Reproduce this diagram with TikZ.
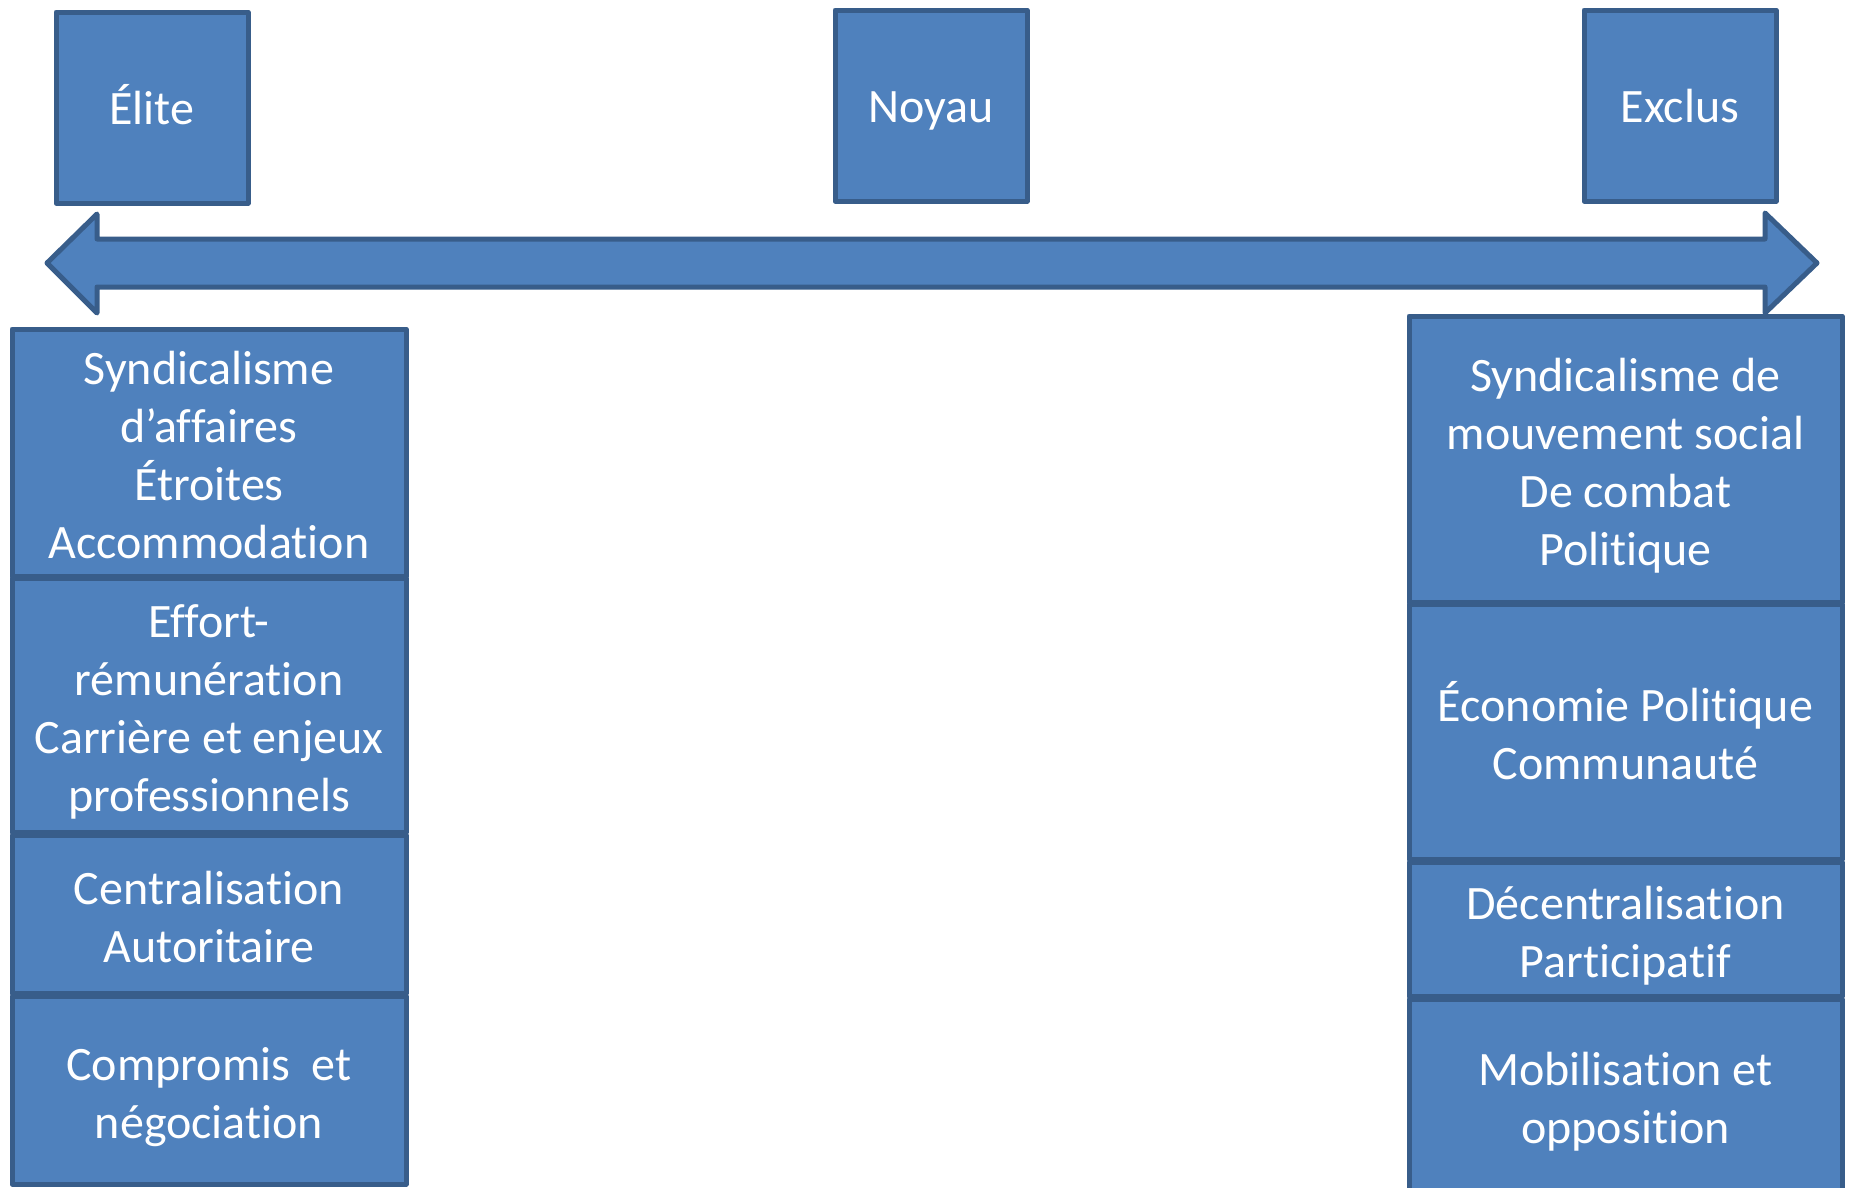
\documentclass[tikz,border=0pt]{standalone}
\usepackage{fontspec}
\setmainfont{Carlito}[RawFeature={-liga;-clig;-dlig;-calt}]
\definecolor{boxfill}{HTML}{4F81BD}
\definecolor{boxline}{HTML}{385D8A}
\newcommand\ls{\rule[-10pt]{0pt}{58pt}}
\newcommand\lt{\rule[-12.5pt]{0pt}{58pt}}
\tikzset{
  blk/.style={draw=boxline, fill=boxfill, line width=5pt, text=white,
    font=\fontsize{48}{58}\selectfont, align=center, inner sep=0pt,
    outer sep=0pt, anchor=north west, line join=round},
  arrowshape/.style={draw=boxline, fill=boxfill, line width=5pt, line join=round}
}
\begin{document}
\begin{tikzpicture}[x=1pt,y=-1pt]
\useasboundingbox (0,0) rectangle (1850,1187);
\fill[white] (0,0) rectangle (1850,1187);
% top boxes
\node[blk, minimum width=192pt, minimum height=191pt] (elite) at (56,12) {\lt Élite};
\node[blk, minimum width=192pt, minimum height=191pt] (noyau) at (835,10) {\lt Noyau};
\node[blk, minimum width=192pt, minimum height=191pt] (exclus) at (1584,10) {\lt Exclus};
% double arrow
\coordinate (ltip) at (47,263);
\coordinate (rtip) at (1817,263);
\draw[arrowshape] (ltip) -- (97,214) -- (97,239) -- (1765,239) -- (1765,213)
  -- (rtip) -- (1765,313) -- (1765,287) -- (97,287) -- (97,313) -- cycle;
% left column
\node[blk, minimum width=394pt, minimum height=247pt] (l1) at (12,329)
  {\ls Syndicalisme\\\ls d’affaires\\\ls Étroites\\\ls Accommodation};
\node[blk, minimum width=394pt, minimum height=254pt] (l2) at (12,578)
  {\ls Effort-\\\ls rémunération\\\ls Carrière et enjeux\\\ls professionnels};
\node[blk, minimum width=394pt, minimum height=158pt] (l3) at (12,835)
  {\ls Centralisation\\\ls Autoritaire};
\node[blk, minimum width=394pt, minimum height=188pt] (l4) at (12,996)
  {\ls Compromis\ \ et\\\ls négociation};
% right column
\node[blk, minimum width=433pt, minimum height=286pt] (r1) at (1409,316)
  {\ls Syndicalisme de\\\ls mouvement social\\\ls De combat\\\ls Politique};
\node[blk, minimum width=433pt, minimum height=255pt] (r2) at (1409,604)
  {\ls Économie Politique\\\ls Communauté};
\node[blk, minimum width=433pt, minimum height=134pt] (r3) at (1409,862)
  {\ls Décentralisation\\\ls Participatif};
\node[blk, minimum width=433pt, minimum height=193pt] (r4) at (1409,999)
  {\ls Mobilisation et\\\ls opposition};
\end{tikzpicture}
\end{document}
